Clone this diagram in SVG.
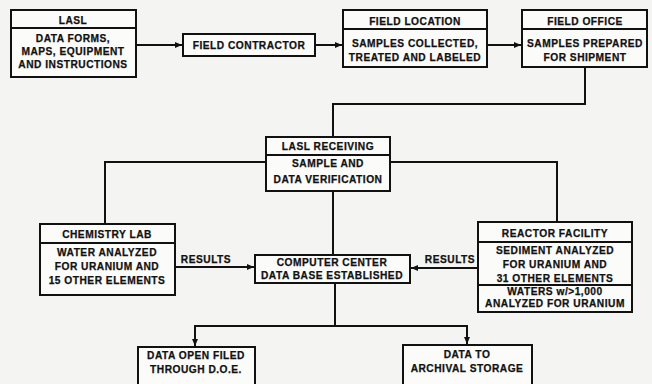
<svg xmlns="http://www.w3.org/2000/svg" width="652" height="384" viewBox="0 0 652 384">
<defs>
<marker id="ah" markerWidth="8" markerHeight="8" refX="7" refY="4" orient="auto" markerUnits="userSpaceOnUse">
<path d="M0,1 L7,4 L0,7 Z" fill="#111"/>
</marker>
<style>
.box{fill:#fbfbfa;stroke:#111;stroke-width:2}
.div{stroke:#111;stroke-width:2}
.ln{fill:none;stroke:#111;stroke-width:2}
text{font-family:"Liberation Sans",Arial,sans-serif;font-weight:bold;font-size:10.2px;fill:#111;stroke:#111;stroke-width:0.25;text-anchor:middle;letter-spacing:0.5px}
</style>
</defs>
<rect width="652" height="384" fill="#f4f4f2"/>
<g id="connectors">
<line class="ln" x1="136" y1="45" x2="182" y2="45" marker-end="url(#ah)"/>
<line class="ln" x1="315" y1="45" x2="342" y2="45" marker-end="url(#ah)"/>
<line class="ln" x1="487" y1="45" x2="521" y2="45" marker-end="url(#ah)"/>
<polyline class="ln" points="585,67 585,104 333,104 333,137"/>
<line class="ln" x1="105" y1="162" x2="266" y2="162"/>
<line class="ln" x1="390" y1="162" x2="557" y2="162"/>
<line class="ln" x1="105" y1="161" x2="105" y2="224"/>
<line class="ln" x1="557" y1="161" x2="557" y2="222"/>
<line class="ln" x1="333" y1="191" x2="333" y2="255"/>
<line class="ln" x1="175" y1="267" x2="254" y2="267" marker-end="url(#ah)"/>
<line class="ln" x1="478" y1="268" x2="411" y2="268" marker-end="url(#ah)"/>
<line class="ln" x1="335" y1="283" x2="335" y2="326"/>
<line class="ln" x1="194" y1="326" x2="468" y2="326"/>
<line class="ln" x1="195" y1="326" x2="195" y2="346" marker-end="url(#ah)"/>
<line class="ln" x1="467" y1="326" x2="467" y2="344" marker-end="url(#ah)"/>
<text x="206" y="263">RESULTS</text>
<text x="450" y="263">RESULTS</text>
</g>
<g id="lasl">
<rect class="box" x="11" y="10" width="125" height="67"/>
<line class="div" x1="11" y1="28" x2="136" y2="28"/>
<text x="73" y="24">LASL</text>
<text x="73" y="42">DATA FORMS,</text>
<text x="73" y="55">MAPS, EQUIPMENT</text>
<text x="73" y="68">AND INSTRUCTIONS</text>
</g>
<g id="field-contractor">
<rect class="box" x="183" y="34" width="132" height="22"/>
<text x="249" y="49">FIELD CONTRACTOR</text>
</g>
<g id="field-location">
<rect class="box" x="343" y="10" width="144" height="57"/>
<line class="div" x1="343" y1="29" x2="487" y2="29"/>
<text x="415" y="25">FIELD LOCATION</text>
<text x="415" y="47">SAMPLES COLLECTED,</text>
<text x="415" y="61">TREATED AND LABELED</text>
</g>
<g id="field-office">
<rect class="box" x="522" y="10" width="125" height="57"/>
<line class="div" x1="522" y1="29" x2="647" y2="29"/>
<text x="585" y="25">FIELD OFFICE</text>
<text x="585" y="47">SAMPLES PREPARED</text>
<text x="585" y="61">FOR SHIPMENT</text>
</g>
<g id="lasl-receiving">
<rect class="box" x="266" y="137" width="124" height="54"/>
<line class="div" x1="266" y1="155" x2="390" y2="155"/>
<text x="328" y="150">LASL RECEIVING</text>
<text x="328" y="167">SAMPLE AND</text>
<text x="328" y="183">DATA VERIFICATION</text>
</g>
<g id="chemistry-lab">
<rect class="box" x="40" y="224" width="135" height="71"/>
<line class="div" x1="40" y1="243" x2="175" y2="243"/>
<text x="107" y="238">CHEMISTRY LAB</text>
<text x="107" y="256">WATER ANALYZED</text>
<text x="107" y="270">FOR URANIUM AND</text>
<text x="107" y="284">15 OTHER ELEMENTS</text>
</g>
<g id="computer-center">
<rect class="box" x="255" y="255" width="155" height="28"/>
<text x="332" y="266">COMPUTER CENTER</text>
<text x="332" y="279">DATA BASE ESTABLISHED</text>
</g>
<g id="reactor-facility">
<rect class="box" x="478" y="222" width="154" height="90"/>
<line class="div" x1="478" y1="242" x2="632" y2="242"/>
<line class="div" x1="478" y1="285" x2="632" y2="285"/>
<text x="555" y="237">REACTOR FACILITY</text>
<text x="555" y="254">SEDIMENT ANALYZED</text>
<text x="555" y="268">FOR URANIUM AND</text>
<text x="555" y="282">31 OTHER ELEMENTS</text>
<text x="555" y="295">WATERS w/&gt;1,000</text>
<text x="555" y="307">ANALYZED FOR URANIUM</text>
</g>
<g id="data-open-filed">
<rect class="box" x="138" y="347" width="117" height="45"/>
<text x="196" y="359">DATA OPEN FILED</text>
<text x="196" y="373">THROUGH D.O.E.</text>
</g>
<g id="archival-storage">
<rect class="box" x="403" y="345" width="129" height="47"/>
<text x="467" y="358">DATA TO</text>
<text x="467" y="372">ARCHIVAL STORAGE</text>
</g>
</svg>
